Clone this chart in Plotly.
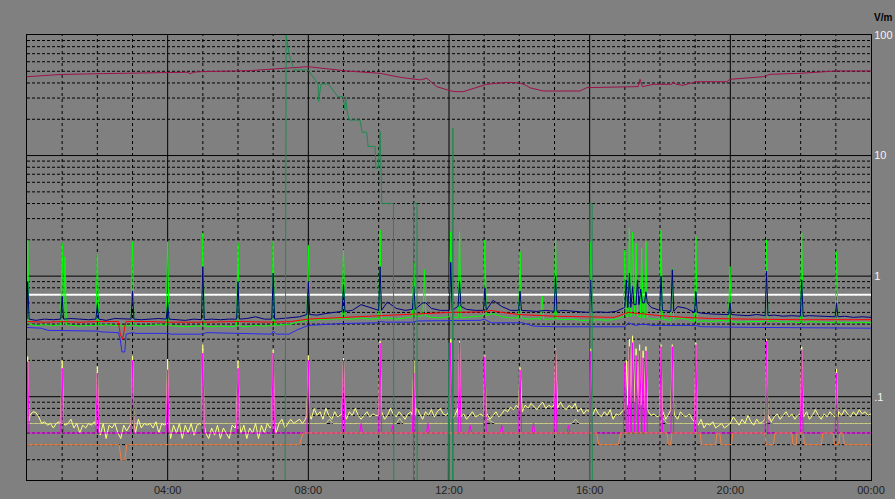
import plotly.graph_objects as go

# ---- axis ticks -------------------------------------------------------------
X_TICKS = [4, 8, 12, 16, 20, 24]
X_TICK_TEXT = ["04:00", "08:00", "12:00", "16:00", "20:00", "00:00"]
Y_TICKS = [0.1, 1, 10, 100]
Y_TICK_TEXT = [".1", "1", "10", "100"]

# ---- upper band --------------------------------------------------------------
CRIMSON_T = [0, 0.94, 2.08, 4.01, 4.55, 4.64, 4.75, 4.92, 6.34, 6.91, 7.76, 7.99,
             9.09, 10.04, 10.61, 11.18, 11.37, 11.45, 11.65, 12.03, 12.17, 12.41,
             13.07, 13.64, 14.02, 14.21, 14.3, 14.68, 15.72, 15.92, 16.87, 17.38,
             17.43, 17.5, 17.81, 18.33, 18.38, 18.45, 18.65, 19.04, 19.9, 19.99,
             20.94, 21.13, 21.98, 23.02, 24]
CRIMSON_V = [45.1, 47.0, 47.8, 49.1, 49.1, 47.8, 49.1, 49.6, 50.6, 52.0, 54.0, 54.6,
             50.3, 48.1, 44.6, 42.4, 43.8, 42.0, 37.3, 34.5, 33.9, 33.9,
             39.0, 40.5, 40.0, 38.0, 36.5, 34.3, 34.3, 36.6, 37.3, 37.3,
             42.9, 37.3, 39.0, 39.0, 41.0, 39.0, 38.3, 41.0, 41.0, 42.9,
             45.1, 47.2, 48.1, 50.3, 50.3]

SEAGREEN_T = [0, 7.34, 7.37, 7.45, 7.53, 7.6, 7.99, 8.28, 8.29, 8.36, 8.57, 8.84,
              8.99, 9.04, 9.06, 9.10, 9.16, 9.47, 9.53, 9.66, 9.70, 9.90, 9.92,
              9.99, 10.04, 10.09, 10.42, 10.43, 10.99, 10.995, 11.09, 11.095,
              11.97, 11.98, 11.99, 12.0, 12.01, 12.10, 12.11, 12.12, 16.0, 16.005,
              16.07, 16.075, 24]
SEAGREEN_V = [0.02, 0.02, 100, 70, 58, 51.3, 51.3, 39.2, 28.0, 39.2, 39.2, 30.8,
              30.8, 23.9, 30.8, 23.9, 19.7, 19.7, 15.6, 15.6, 11.9, 11.9, 7.85,
              7.85, 15.8, 4.01, 4.01, 0.02, 0.02, 4.0, 4.0, 0.02,
              0.02, 0.28, 0.02, 0.28, 0.02, 0.02, 16.9, 0.02, 0.02, 4.0,
              4.0, 0.02, 0.02]

REFERENCE_LEVEL = 0.7

# ---- middle band: 15-minute baselines + spikes -------------------------------
NAVY_BASE = [
    0.44, 0.43, 0.44, 0.435, 0.44, 0.445, 0.44, 0.435, 0.44, 0.43, 0.445, 0.44,
    0.44, 0.435, 0.44, 0.445, 0.44, 0.435, 0.43, 0.44, 0.435, 0.44, 0.435, 0.44,
    0.44, 0.445, 0.46, 0.44, 0.44, 0.445, 0.45, 0.46, 0.48, 0.475, 0.49, 0.50,
    0.51, 0.52, 0.58, 0.55, 0.52, 0.61, 0.54, 0.52, 0.53, 0.60, 0.54, 0.52,
    0.52, 0.56, 0.53, 0.52, 0.52, 0.63, 0.56, 0.52, 0.52, 0.515, 0.51, 0.52,
    0.51, 0.52, 0.51, 0.505, 0.50, 0.505, 0.50, 0.51, 0.55, 0.58, 0.60, 0.55,
    0.52, 0.51, 0.56, 0.54, 0.50, 0.49, 0.485, 0.48, 0.48, 0.475, 0.47, 0.48,
    0.47, 0.475, 0.465, 0.47, 0.465, 0.47, 0.465, 0.46, 0.46, 0.465, 0.455, 0.46,
    0.455]
GREEN_BASE = [
    0.40, 0.39, 0.395, 0.39, 0.395, 0.39, 0.385, 0.39, 0.39, 0.395, 0.39, 0.385,
    0.39, 0.385, 0.39, 0.395, 0.39, 0.385, 0.38, 0.385, 0.385, 0.38, 0.385, 0.38,
    0.385, 0.38, 0.39, 0.385, 0.39, 0.395, 0.40, 0.42, 0.43, 0.435, 0.44, 0.44,
    0.445, 0.44, 0.45, 0.44, 0.445, 0.45, 0.44, 0.45, 0.46, 0.47, 0.455, 0.45,
    0.46, 0.45, 0.455, 0.46, 0.47, 0.49, 0.46, 0.45, 0.45, 0.44, 0.445, 0.44,
    0.44, 0.435, 0.44, 0.43, 0.43, 0.435, 0.43, 0.44, 0.46, 0.47, 0.45, 0.44,
    0.44, 0.43, 0.45, 0.44, 0.42, 0.425, 0.42, 0.43, 0.42, 0.415, 0.42, 0.42,
    0.42, 0.425, 0.415, 0.42, 0.41, 0.42, 0.415, 0.41, 0.41, 0.415, 0.41, 0.415,
    0.41]
# (time, peak) of the bright green and navy spikes
GREEN_SPIKES = [(0.02, 2.0), (1.0, 1.88), (1.08, 1.45), (2.0, 1.5), (3.0, 1.93),
                (4.0, 1.93), (5.0, 2.28), (6.0, 1.88), (7.0, 1.93), (8.0, 1.8),
                (9.0, 1.65), (10.04, 2.4), (11.0, 1.3), (11.3, 1.13), (12.05, 2.34),
                (12.3, 2.34), (13.02, 2.0), (14.02, 1.6), (14.65, 0.68), (15.03, 2.06),
                (16.03, 1.93), (17.0, 1.65), (17.13, 2.5), (17.22, 2.3), (17.32, 1.87),
                (17.48, 1.7), (17.6, 1.93), (18.03, 2.4), (18.35, 1.15), (19.02, 2.13),
                (19.99, 1.2), (21.03, 2.0), (22.03, 2.28), (23.02, 1.6)]
NAVY_SPIKES = [(0.02, 0.90), (1.0, 0.68), (2.0, 0.58), (3.0, 0.75), (4.0, 0.60),
               (5.0, 1.2), (6.0, 0.90), (7.0, 1.06), (8.0, 0.90), (9.0, 0.85),
               (10.04, 1.2), (11.0, 0.82), (11.3, 0.60), (12.05, 1.3), (12.3, 0.9),
               (13.02, 0.8), (14.02, 0.75), (15.03, 1.0), (16.03, 0.93), (17.04, 0.93),
               (17.13, 1.06), (17.22, 0.82), (17.36, 0.93), (17.45, 0.78), (17.6, 0.74),
               (18.03, 1.0), (18.35, 1.13), (19.02, 0.74), (19.99, 0.6), (21.03, 1.1),
               (22.03, 0.93), (23.02, 0.6)]

RED_T = [0, 0.5, 1, 1.5, 2, 2.6, 2.65, 2.72, 2.78, 2.82, 3.5, 4, 5, 6, 7, 7.5,
         8, 9, 10, 11, 12, 13, 13.2, 13.5, 14, 15, 16, 16.7, 17.1, 17.4, 18,
         18.7, 19.5, 20.5, 22, 24]
RED_V = [0.42, 0.415, 0.42, 0.415, 0.42, 0.42, 0.33, 0.30, 0.38, 0.42, 0.42, 0.415,
         0.415, 0.42, 0.415, 0.42, 0.44, 0.455, 0.465, 0.48, 0.50, 0.505, 0.52, 0.50,
         0.48, 0.465, 0.46, 0.455, 0.50, 0.49, 0.47, 0.455, 0.445, 0.44, 0.435, 0.435]

BLUE_T = [0, 0.4, 0.6, 1.0, 1.1, 2.0, 2.1, 2.6, 2.65, 2.7, 2.78, 2.82, 3.0, 3.1,
          4.0, 4.1, 5.0, 5.1, 6.0, 6.95, 7.0, 7.1, 7.45, 7.7, 8.0, 8.5, 9.0,
          10.0, 10.05, 10.2, 11.0, 11.1, 12.0, 12.9, 13.0, 13.2, 14.1, 14.4, 15.0,
          16.0, 16.3, 17.0, 17.1, 17.3, 17.5, 17.8, 19.0, 19.2, 21.0, 22.0, 24]
BLUE_V = [0.375, 0.37, 0.355, 0.355, 0.35, 0.35, 0.345, 0.34, 0.30, 0.235, 0.235,
          0.33, 0.34, 0.335, 0.335, 0.33, 0.33, 0.34, 0.335, 0.33, 0.35, 0.33,
          0.33, 0.36, 0.39, 0.40, 0.405, 0.41, 0.42, 0.415, 0.415, 0.425, 0.43,
          0.43, 0.44, 0.41, 0.41, 0.385, 0.38, 0.38, 0.38, 0.38, 0.41, 0.39, 0.40,
          0.39, 0.39, 0.38, 0.375, 0.375, 0.37]

# ---- lower band ----------------------------------------------------------------
# 5-minute yellow samples, one row per hour
YELLOW_BASE = [
    0.063, 0.07, 0.075, 0.074, 0.068, 0.06, 0.062, 0.058, 0.06, 0.055, 0.06, 0.062,
    0.06, 0.058, 0.06, 0.065, 0.055, 0.06, 0.05, 0.058, 0.055, 0.06, 0.058, 0.062,
    0.058, 0.048, 0.06, 0.045, 0.058, 0.055, 0.06, 0.05, 0.045, 0.058, 0.052, 0.058,
    0.06, 0.05, 0.065, 0.055, 0.06, 0.058, 0.06, 0.055, 0.062, 0.05, 0.06, 0.058,
    0.06, 0.045, 0.058, 0.05, 0.06, 0.045, 0.058, 0.05, 0.06, 0.048, 0.058, 0.06,
    0.058, 0.05, 0.045, 0.055, 0.048, 0.058, 0.045, 0.055, 0.05, 0.045, 0.058, 0.055,
    0.06, 0.05, 0.058, 0.045, 0.055, 0.05, 0.06, 0.045, 0.058, 0.05, 0.06, 0.055,
    0.058, 0.05, 0.06, 0.065, 0.055, 0.06, 0.065, 0.06, 0.062, 0.065, 0.06, 0.065,
    0.07, 0.065, 0.08, 0.07, 0.075, 0.065, 0.08, 0.07, 0.065, 0.075, 0.068, 0.07,
    0.072, 0.065, 0.075, 0.07, 0.08, 0.07, 0.065, 0.07, 0.075, 0.068, 0.072, 0.07,
    0.07, 0.075, 0.065, 0.07, 0.08, 0.072, 0.068, 0.075, 0.07, 0.065, 0.072, 0.075,
    0.07, 0.08, 0.072, 0.065, 0.075, 0.07, 0.078, 0.068, 0.075, 0.08, 0.072, 0.07,
    0.075, 0.065, 0.07, 0.08, 0.068, 0.072, 0.065, 0.07, 0.075, 0.068, 0.07, 0.072,
    0.068, 0.072, 0.065, 0.07, 0.075, 0.068, 0.072, 0.078, 0.075, 0.082, 0.078, 0.085,
    0.08, 0.075, 0.085, 0.08, 0.088, 0.082, 0.078, 0.085, 0.09, 0.08, 0.085, 0.082,
    0.085, 0.08, 0.09, 0.082, 0.078, 0.085, 0.08, 0.088, 0.075, 0.08, 0.072, 0.078,
    0.075, 0.07, 0.08, 0.072, 0.068, 0.075, 0.07, 0.078, 0.065, 0.072, 0.07, 0.075,
    0.08, 0.09, 0.085, 0.10, 0.09, 0.085, 0.09, 0.08, 0.075, 0.07, 0.072, 0.068,
    0.07, 0.075, 0.065, 0.072, 0.078, 0.07, 0.065, 0.075, 0.07, 0.068, 0.072, 0.065,
    0.062, 0.058, 0.065, 0.055, 0.06, 0.058, 0.062, 0.055, 0.058, 0.06, 0.055, 0.058,
    0.06, 0.068, 0.062, 0.058, 0.065, 0.06, 0.07, 0.062, 0.058, 0.065, 0.06, 0.062,
    0.065, 0.07, 0.062, 0.068, 0.072, 0.065, 0.07, 0.075, 0.068, 0.072, 0.065, 0.07,
    0.072, 0.068, 0.075, 0.065, 0.07, 0.078, 0.07, 0.065, 0.072, 0.068, 0.075, 0.07,
    0.068, 0.075, 0.07, 0.078, 0.072, 0.068, 0.075, 0.07, 0.078, 0.072, 0.075, 0.07,
    0.072]
KHAKI_T = [0, 7.8, 8.5, 8.6, 8.7, 10.5, 10.6, 10.7, 13.0, 13.1, 13.3, 15.5, 15.6,
           15.7, 18.0, 18.1, 18.2, 21.0, 21.1, 21.2, 24]
KHAKI_V = [0.06, 0.06, 0.06, 0.065, 0.06, 0.06, 0.066, 0.06, 0.06, 0.065, 0.06,
           0.06, 0.065, 0.06, 0.06, 0.066, 0.06, 0.06, 0.065, 0.06, 0.06]

MAGENTA_BASE_T = [0, 24]
MAGENTA_BASE_V = [0.05, 0.05]
MAGENTA_SPIKES = [(0.02, 0.195), (1.0, 0.172), (2.0, 0.157), (3.0, 0.20), (4.0, 0.167),
                  (5.0, 0.23), (6.0, 0.172), (7.0, 0.23), (8.0, 0.20), (9.0, 0.20),
                  (9.5, 0.06), (10.04, 0.278), (10.4, 0.058), (11.0, 0.157), (11.4, 0.06),
                  (12.05, 0.28), (12.3, 0.28), (12.6, 0.058), (13.02, 0.215), (13.5, 0.058),
                  (14.02, 0.167), (14.4, 0.06), (15.03, 0.245), (15.4, 0.058),
                  (16.03, 0.238), (17.0, 0.19), (17.13, 0.26), (17.22, 0.28), (17.32, 0.22),
                  (17.42, 0.24), (17.52, 0.21), (17.6, 0.24), (18.03, 0.26), (18.35, 0.26),
                  (19.02, 0.27), (21.03, 0.29), (22.03, 0.245), (23.02, 0.157)]
YELLOW_SPIKES = [(0.02, 0.215), (1.0, 0.20), (2.0, 0.178), (3.0, 0.218), (4.0, 0.205),
                 (5.0, 0.27), (6.0, 0.20), (7.0, 0.245), (8.0, 0.22), (9.0, 0.21),
                 (10.04, 0.29), (11.0, 0.20), (12.05, 0.3), (12.3, 0.29), (13.02, 0.22),
                 (14.02, 0.175), (15.03, 0.25), (16.03, 0.25), (17.05, 0.2), (17.13, 0.3),
                 (17.22, 0.32), (17.32, 0.25), (17.42, 0.27), (17.52, 0.24), (17.6, 0.26),
                 (18.03, 0.27), (18.35, 0.27), (19.02, 0.28), (21.03, 0.3), (22.03, 0.26),
                 (23.02, 0.17)]

ORANGE_T = [0, 2.62, 2.68, 2.78, 2.84, 7.75, 7.85, 16.2, 16.26, 16.82, 16.88,
            18.2, 18.24, 18.3, 18.34, 19.14, 19.18, 19.58, 19.62, 19.7, 19.74,
            20.03, 20.07, 20.98, 21.02, 21.23, 21.27, 21.75, 21.78, 21.87, 21.9,
            22.07, 22.11, 22.59, 22.63, 22.92, 22.96, 23.08, 23.12, 23.2, 23.24, 24]
ORANGE_V = [0.04, 0.04, 0.03, 0.03, 0.04, 0.04, 0.05, 0.05, 0.04, 0.04, 0.05,
            0.05, 0.04, 0.04, 0.05, 0.05, 0.04, 0.04, 0.05, 0.05, 0.04,
            0.04, 0.05, 0.05, 0.04, 0.04, 0.05, 0.05, 0.04, 0.04, 0.05,
            0.05, 0.04, 0.04, 0.05, 0.05, 0.04, 0.04, 0.05, 0.05, 0.04, 0.04]

SPIKE_HALF_WIDTH = 0.04  # hours


def regular_times(values, step):
    return [i * step for i in range(len(values))]


def with_spikes(times, values, spikes, half=SPIKE_HALF_WIDTH):
    """Merge (time, peak) spikes into a baseline series, holding the nearest base value."""
    pts = list(zip(times, values))
    for t, peak in spikes:
        near = min(pts, key=lambda p: abs(p[0] - t))[1]
        pts = [p for p in pts if abs(p[0] - t) >= half]
        pts += [(max(t - half, 0), near), (t, peak), (min(t + half, 24), near)]
    pts.sort()
    return [p[0] for p in pts], [p[1] for p in pts]


fig = go.Figure()


def add_line(x, y, color, width=1):
    fig.add_trace(go.Scatter(x=x, y=y, mode="lines",
                             line=dict(color=color, width=width),
                             hoverinfo="skip"))


add_line([0, 24], [REFERENCE_LEVEL, REFERENCE_LEVEL], "#FFFFFF", 2)
add_line(CRIMSON_T, CRIMSON_V, "#A0104C")
add_line(KHAKI_T, KHAKI_V, "#D0D088")
yx, yy = with_spikes(regular_times(YELLOW_BASE, 1 / 12), YELLOW_BASE, YELLOW_SPIKES)
add_line(yx, yy, "#FFFF80")
mx, my = with_spikes(MAGENTA_BASE_T, MAGENTA_BASE_V, MAGENTA_SPIKES)
add_line(mx, my, "#FF00FF")
add_line(ORANGE_T, ORANGE_V, "#F08040")
add_line(BLUE_T, BLUE_V, "#2828F0")
gx, gy = with_spikes(regular_times(GREEN_BASE, 0.25), GREEN_BASE, GREEN_SPIKES)
add_line(gx, gy, "#00FF00")
add_line(RED_T, RED_V, "#FF0000")
nx, ny = with_spikes(regular_times(NAVY_BASE, 0.25), NAVY_BASE, NAVY_SPIKES)
add_line(nx, ny, "#000080")
add_line(SEAGREEN_T, SEAGREEN_V, "#1F8B50")

# grid: solid every 4 hours / every decade, dashed in between
shapes = []
for h in range(1, 24):
    solid = h % 4 == 0
    shapes.append(dict(type="line", xref="x", yref="paper", x0=h, x1=h, y0=0, y1=1,
                       layer="below",
                       line=dict(color="black", width=1,
                                 dash="solid" if solid else "3px,3px")))
for decade in (0.01, 0.1, 1, 10):
    for k in range(1, 10):
        v = decade * k
        if not (0.0205 < v < 99):
            continue
        solid = k == 1
        shapes.append(dict(type="line", xref="paper", yref="y", x0=0, x1=1, y0=v, y1=v,
                           layer="below",
                           line=dict(color="black", width=1,
                                     dash="solid" if solid else "3px,2px")))

fig.update_layout(
    width=895, height=499,
    margin=dict(l=27, r=24, t=35, b=19, autoexpand=False),
    paper_bgcolor="#808080", plot_bgcolor="#808080",
    showlegend=False,
    font=dict(family="Liberation Sans, Arial, sans-serif", size=11),
    shapes=shapes,
    xaxis=dict(range=[0, 24], tickvals=X_TICKS, ticktext=X_TICK_TEXT,
               showgrid=False, zeroline=False, ticks="", automargin=False,
               showline=True, linecolor="black", linewidth=1, mirror=True,
               tickfont=dict(color="#202020", size=11)),
    yaxis=dict(type="log", range=[-1.691, 2], side="right",
               tickvals=Y_TICKS, ticktext=Y_TICK_TEXT,
               showgrid=False, zeroline=False, ticks="", automargin=False,
               showline=True, linecolor="black", linewidth=1, mirror=True,
               tickfont=dict(color="#F4F4F4", size=11)),
    annotations=[dict(text="<b>V/m</b>", xref="paper", yref="paper", x=1, y=1,
                      xanchor="left", yanchor="bottom", xshift=1, yshift=10,
                      showarrow=False, font=dict(color="black", size=10))],
)

fig.write_html("out.html")
